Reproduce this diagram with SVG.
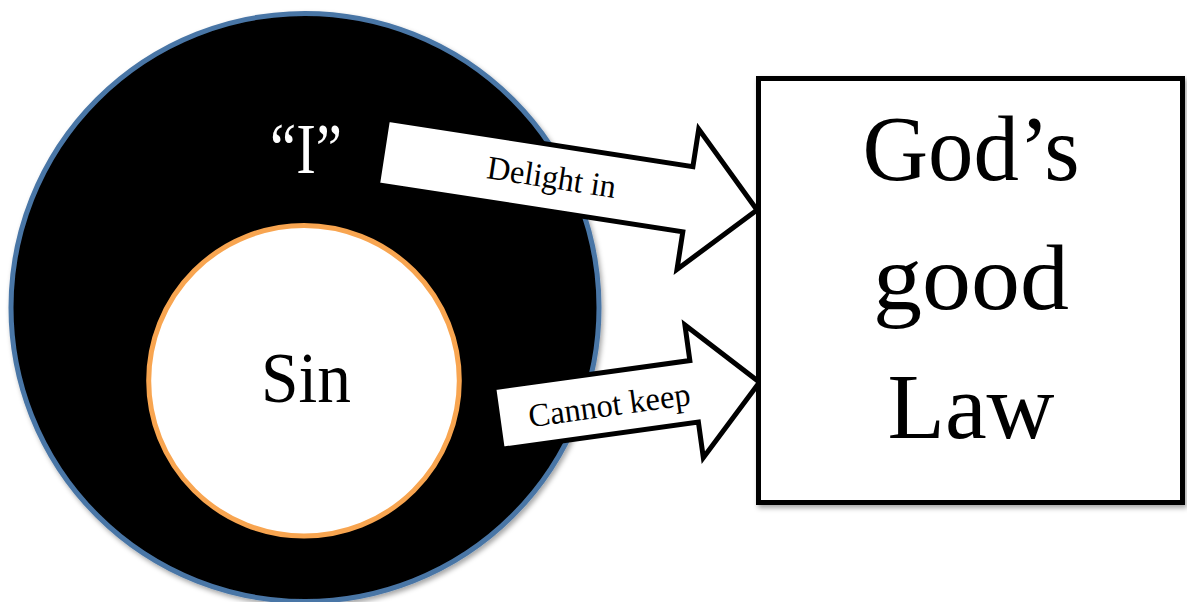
<svg xmlns="http://www.w3.org/2000/svg" width="1187" height="602" viewBox="0 0 1187 602">
  <style>
    .serif { font-family: "Liberation Serif", "Times New Roman", serif; }
    .arrow { fill: #ffffff; stroke: #000000; stroke-width: 5; stroke-linejoin: miter; stroke-miterlimit: 10; }
    .arrow-label { font-size: 33px; fill: #000000; text-anchor: middle; }
    .big { font-size: 93px; fill: #000000; text-anchor: middle; }
  </style>
  <defs>
    <filter id="soft-shadow" x="-10%" y="-10%" width="120%" height="120%">
      <feDropShadow dx="2" dy="3" stdDeviation="2.5" flood-color="#000000" flood-opacity="0.35"/>
    </filter>
  </defs>
  <rect width="1187" height="602" fill="#ffffff"/>

  <!-- outer self circle -->
  <g id="self">
    <circle cx="305" cy="307.5" r="294" fill="#000000" stroke="#4a76a6" stroke-width="5" filter="url(#soft-shadow)"/>
    <text class="serif" x="306" y="173" font-size="72" fill="#ffffff" text-anchor="middle" textLength="72" lengthAdjust="spacingAndGlyphs">“I”</text>
  </g>

  <!-- inner sin circle -->
  <g id="sin">
    <circle cx="304" cy="380.7" r="155.3" fill="#ffffff" stroke="#f8a550" stroke-width="5"/>
    <text class="serif" x="306" y="402" font-size="72" fill="#000000" text-anchor="middle" textLength="90" lengthAdjust="spacingAndGlyphs">Sin</text>
  </g>

  <!-- block arrows -->
  <g id="connectors">
    <g id="delight-in" transform="translate(382.5,152) rotate(8.8)">
      <path class="arrow" d="M0,-33 L309,-33 L309,-71 L379,0 L309,71 L309,33 L0,33 Z"/>
      <text class="serif arrow-label" x="171" y="10" textLength="130" lengthAdjust="spacingAndGlyphs">Delight in</text>
    </g>
    <g id="cannot-keep" transform="translate(498,418.5) rotate(-7.9)">
      <path class="arrow" d="M0,-31 L198,-31 L198,-67 L264,0 L198,67 L198,31 L0,31 Z"/>
      <text class="serif arrow-label" x="112" y="13" textLength="163" lengthAdjust="spacingAndGlyphs">Cannot keep</text>
    </g>
  </g>

  <!-- law box -->
  <g id="law">
    <rect x="758.5" y="78.5" width="424" height="424" fill="#ffffff" stroke="#000000" stroke-width="5" filter="url(#soft-shadow)"/>
    <text class="serif big" x="971" y="180" textLength="217" lengthAdjust="spacingAndGlyphs">God’s</text>
    <text class="serif big" x="971" y="309" textLength="196" lengthAdjust="spacingAndGlyphs">good</text>
    <text class="serif big" x="971" y="438" textLength="167" lengthAdjust="spacingAndGlyphs">Law</text>
  </g>
</svg>
